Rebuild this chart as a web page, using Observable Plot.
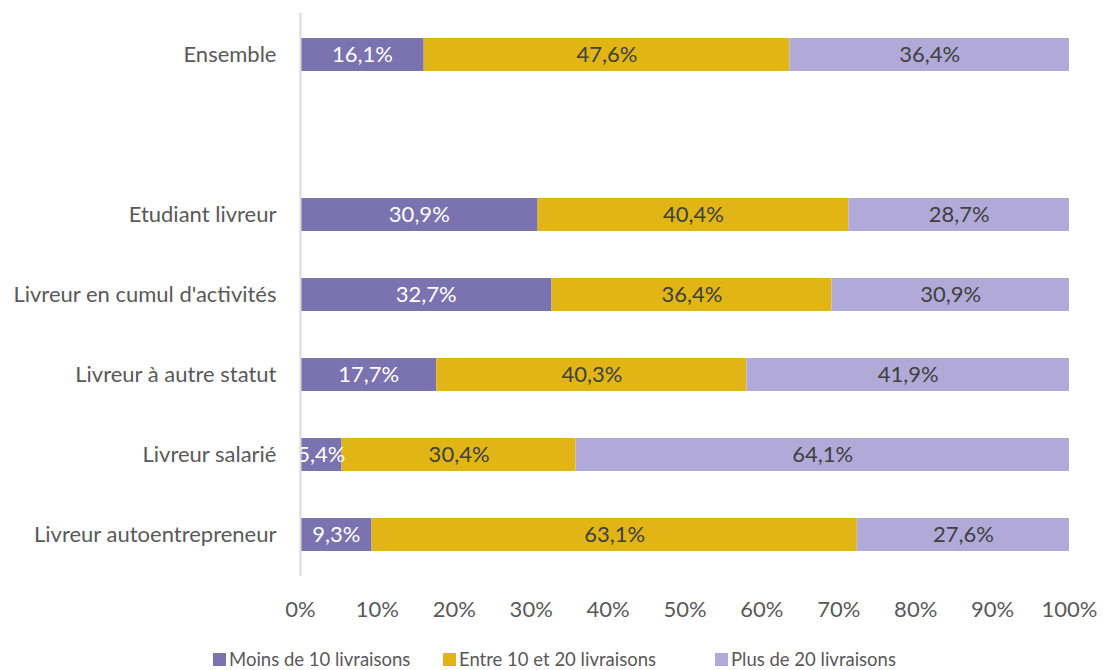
<!DOCTYPE html>
<html><head><meta charset="utf-8">
<script src="https://cdn.jsdelivr.net/npm/d3@7"></script>
<script src="https://cdn.jsdelivr.net/npm/@observablehq/plot@0.6"></script>
<style>
body{margin:0;background:#fff;font-family:Lato,"Open Sans",sans-serif;}
#legend{position:relative;height:22px;font-size:18.5px;color:#595959;}
#legend .item{position:absolute;top:0;display:flex;align-items:center;white-space:nowrap;line-height:22px;}
#legend .sw{width:13px;height:13px;margin-right:3px;}
</style></head>
<body>
<div id="chart"></div>
<div id="legend"></div>
<script>
const categories = ["Ensemble", " ", "Etudiant livreur", "Livreur en cumul d'activités", "Livreur à autre statut", "Livreur salarié", "Livreur autoentrepreneur"];
const series = ["Moins de 10 livraisons", "Entre 10 et 20 livraisons", "Plus de 20 livraisons"];
const colors = ["#7b72b0", "#e0b515", "#b1a9d8"];
const moins = [16.1, null, 30.9, 32.7, 17.7, 5.4, 9.3];
const entre = [47.6, null, 40.4, 36.4, 40.3, 30.4, 63.1];
const plus  = [36.4, null, 28.7, 30.9, 41.9, 64.1, 27.6];
const xTicks = [0, 0.1, 0.2, 0.3, 0.4, 0.5, 0.6, 0.7, 0.8, 0.9, 1];

const values = [moins, entre, plus];
const data = [];
categories.forEach((c, i) => {
  values.forEach((arr, s) => {
    if (arr[i] != null) data.push({cat: c, serie: series[s], v: arr[i]});
  });
});
const fmt = v => v.toFixed(1).replace(".", ",") + "%";

const chart = Plot.plot({
  width: 1103,
  height: 648,
  marginLeft: 300,
  marginRight: 34,
  marginTop: 13,
  marginBottom: 72,
  style: {fontFamily: "Lato, 'Open Sans', sans-serif", fontSize: "22px", color: "#595959", background: "#fff"},
  x: {domain: [0, 1], ticks: xTicks, tickFormat: d => Math.round(d * 100) + "%", tickSize: 0, tickPadding: 25, label: null},
  y: {domain: categories, paddingInner: 0.59, paddingOuter: 0.295, tickSize: 0, tickPadding: 24, label: null},
  color: {domain: series, range: colors},
  marks: [
    Plot.barX(data, Plot.stackX({offset: "normalize", x: "v", y: "cat", z: "serie", fill: "serie", order: series})),
    Plot.text(data, Plot.stackX({offset: "normalize", x: "v", y: "cat", z: "serie", order: series,
      text: d => fmt(d.v),
      fill: d => d.serie === series[0] ? "#ffffff" : "#404040",
      fontSize: 22, clip: true})),
    Plot.ruleX([0], {stroke: "#d9d9d9", strokeWidth: 2})
  ]
});
chart.querySelectorAll("g[aria-label='x-axis tick label'] text, g[aria-label='y-axis tick label'] text").forEach(t => t.setAttribute("fill", "#595959"));
document.getElementById("chart").appendChild(chart);

const legendPos = [213, 443, 715];
const lg = document.getElementById("legend");
series.forEach((s, i) => {
  const it = document.createElement("div");
  it.className = "item";
  it.style.left = legendPos[i] + "px";
  it.innerHTML = `<span class="sw" style="background:${colors[i]}"></span><span>${s}</span>`;
  lg.appendChild(it);
});
</script>
</body></html>
